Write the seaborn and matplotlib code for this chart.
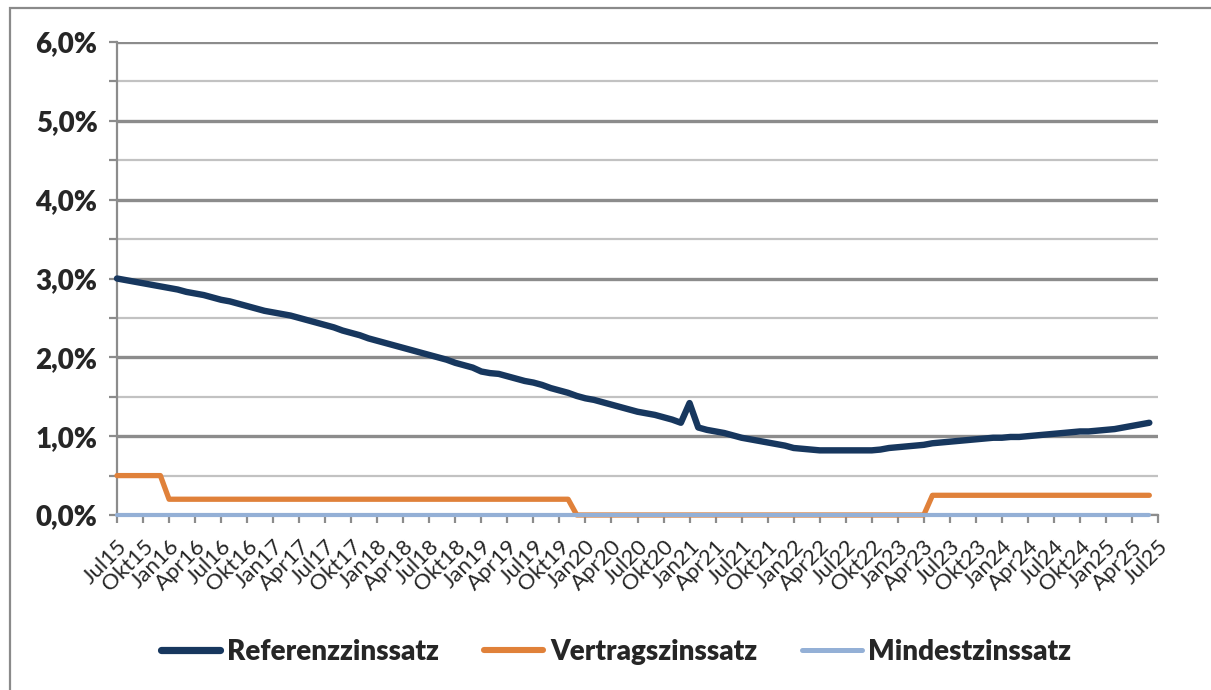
import numpy as np
import pandas as pd
import matplotlib
matplotlib.use("Agg")
import matplotlib.pyplot as plt
from matplotlib.lines import Line2D
from matplotlib.patches import Rectangle
import seaborn as sns

# Quarterly category labels on the x axis (Jul 2015 .. Jul 2025)
quarter_labels = [
    "Jul15", "Okt15", "Jan16", "Apr16", "Jul16", "Okt16", "Jan17", "Apr17",
    "Jul17", "Okt17", "Jan18", "Apr18", "Jul18", "Okt18", "Jan19", "Apr19",
    "Jul19", "Okt19", "Jan20", "Apr20", "Jul20", "Okt20", "Jan21", "Apr21",
    "Jul21", "Okt21", "Jan22", "Apr22", "Jul22", "Okt22", "Jan23", "Apr23",
    "Jul23", "Okt23", "Jan24", "Apr24", "Jul24", "Okt24", "Jan25", "Apr25",
    "Jul25",
]

# Monthly reference rate in percent, Jul 2015 .. Jun 2025
ref_rate = [
    3.00, 2.98, 2.96, 2.94, 2.92, 2.90,   # Jul15 - Dez15
    2.88, 2.86, 2.83, 2.81, 2.79, 2.76,   # Jan16 - Jun16
    2.73, 2.71, 2.68, 2.65, 2.62, 2.59,   # Jul16 - Dez16
    2.57, 2.55, 2.53, 2.50, 2.47, 2.44,   # Jan17 - Jun17
    2.41, 2.38, 2.34, 2.31, 2.28, 2.24,   # Jul17 - Dez17
    2.21, 2.18, 2.15, 2.12, 2.09, 2.06,   # Jan18 - Jun18
    2.03, 2.00, 1.97, 1.93, 1.90, 1.87,   # Jul18 - Dez18
    1.82, 1.80, 1.79, 1.76, 1.73, 1.70,   # Jan19 - Jun19
    1.68, 1.65, 1.61, 1.58, 1.55, 1.51,   # Jul19 - Dez19
    1.48, 1.46, 1.43, 1.40, 1.37, 1.34,   # Jan20 - Jun20
    1.31, 1.29, 1.27, 1.24, 1.21, 1.17,   # Jul20 - Dez20
    1.42, 1.11, 1.08, 1.06, 1.04, 1.01,   # Jan21 - Jun21
    0.98, 0.96, 0.94, 0.92, 0.90, 0.88,   # Jul21 - Dez21
    0.85, 0.84, 0.83, 0.82, 0.82, 0.82,   # Jan22 - Jun22
    0.82, 0.82, 0.82, 0.82, 0.83, 0.85,   # Jul22 - Dez22
    0.86, 0.87, 0.88, 0.89, 0.91, 0.92,   # Jan23 - Jun23
    0.93, 0.94, 0.95, 0.96, 0.97, 0.98,   # Jul23 - Dez23
    0.98, 0.99, 0.99, 1.00, 1.01, 1.02,   # Jan24 - Jun24
    1.03, 1.04, 1.05, 1.06, 1.06, 1.07,   # Jul24 - Dez24
    1.08, 1.09, 1.11, 1.13, 1.15, 1.17,   # Jan25 - Jun25
]

# Contract rate: vertices of the piecewise line (month index from Jul15)
contract_months = [0, 5, 6, 52, 53, 93, 94, 119]
contract_rate = [0.50, 0.50, 0.20, 0.20, 0.00, 0.00, 0.25, 0.25]

# Minimum rate: flat at zero
minimum_months = [0, 119]
minimum_rate = [0.00, 0.00]

y_labels = ["0,0%", "1,0%", "2,0%", "3,0%", "4,0%", "5,0%", "6,0%"]

series_names = ["Referenzzinssatz", "Vertragszinssatz", "Mindestzinssatz"]
colors = {"Referenzzinssatz": "#17375E",
          "Vertragszinssatz": "#E0813A",
          "Mindestzinssatz": "#94B0D6"}
widths = {"Referenzzinssatz": 4.6,
          "Vertragszinssatz": 3.8,
          "Mindestzinssatz": 3.0}

df = pd.concat([
    pd.DataFrame({"month": np.arange(len(ref_rate)), "value": ref_rate,
                  "series": "Referenzzinssatz"}),
    pd.DataFrame({"month": contract_months, "value": contract_rate,
                  "series": "Vertragszinssatz"}),
    pd.DataFrame({"month": minimum_months, "value": minimum_rate,
                  "series": "Mindestzinssatz"}),
], ignore_index=True)

sns.set_style("white")
fonts = ["Lato", "DejaVu Sans"]
plt.rcParams["font.family"] = fonts

fig = plt.figure(figsize=(12.11, 6.90), dpi=100)
ax = fig.add_axes([117 / 1211, 1 - 515 / 690, (1158 - 117) / 1211, (515 - 42) / 690])

# outer chart frame
fig.patches.append(Rectangle((10 / 1211, -0.1), 1.2, (1 - 8 / 690) + 0.1,
                             transform=fig.transFigure, fill=False,
                             edgecolor="#8a8a8a", linewidth=1.6))

grid_major = "#8c8c8c"
grid_minor = "#c2c2c2"

draw_order = ["Vertragszinssatz", "Mindestzinssatz", "Referenzzinssatz"]
for name in draw_order:
    sub = df[df["series"] == name]
    sns.lineplot(data=sub, x="month", y="value", ax=ax, color=colors[name],
                 linewidth=widths[name], estimator=None, sort=True,
                 legend=False, zorder=3)

for ln in ax.get_lines():
    ln.set_solid_capstyle("round")
    ln.set_solid_joinstyle("round")
    ln.set_clip_on(False)

ax.set_xlim(0, 120)
ax.set_ylim(0, 6)

ax.set_yticks(np.arange(0, 7, 1))
ax.set_yticks(np.arange(0.5, 6, 1), minor=True)
ax.set_yticklabels(y_labels, fontsize=20, fontweight="heavy")
ax.grid(which="major", axis="y", color=grid_major, linewidth=2.4, zorder=1)
ax.grid(which="minor", axis="y", color=grid_minor, linewidth=1.6, zorder=1)
ax.grid(which="major", axis="x", visible=False)

ax.set_xticks(np.arange(0, 121, 3))
ax.set_xticklabels(quarter_labels, rotation=45, ha="right",
                   rotation_mode="anchor", fontsize=16)
ax.tick_params(axis="x", which="major", length=6, width=1.6, color=grid_major,
               pad=9, direction="out", bottom=True)
ax.tick_params(axis="y", which="both", length=6, width=1.6, color=grid_major,
               pad=8, direction="out", left=True)

for side in ["top", "right"]:
    ax.spines[side].set_visible(False)
for side in ["left", "bottom"]:
    ax.spines[side].set_color(grid_major)
    ax.spines[side].set_linewidth(1.6)

ax.set_xlabel("")
ax.set_ylabel("")

handles = [Line2D([0], [0], color=colors[n], lw=widths[n] + 0.6,
                  solid_capstyle="round") for n in series_names]
fig.legend(handles, series_names, loc="center",
           bbox_to_anchor=(616 / 1211, 1 - 652 / 690), ncol=3, frameon=False,
           prop={"family": fonts, "weight": "heavy", "size": 20},
           handlelength=2.15, handletextpad=0.25, columnspacing=1.6)

fig.savefig("out.png", dpi=100)
